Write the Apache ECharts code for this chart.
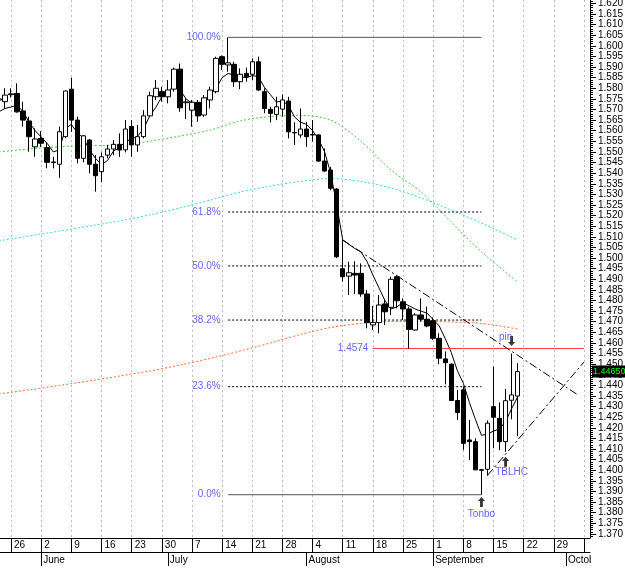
<!DOCTYPE html>
<html>
<head>
<meta charset="utf-8">
<title>EUR/USD daily</title>
<style>
html, body, #main {width:100%;height:100%;margin:0;overflow:hidden;background:#fff;}
</style>
<script src="https://cdn.jsdelivr.net/npm/echarts/dist/echarts.min.js"></script>
</head>
<body>
<div id="main"></div>
<script>
// trading days, May 22 - Oct 7 (2008)
var dates = ['05-22','05-23','05-26','05-27','05-28','05-29','05-30',
  '06-02','06-03','06-04','06-05','06-06','06-09','06-10','06-11','06-12','06-13',
  '06-16','06-17','06-18','06-19','06-20','06-23','06-24','06-25','06-26','06-27','06-30',
  '07-01','07-02','07-03','07-04','07-07','07-08','07-09','07-10','07-11',
  '07-14','07-15','07-16','07-17','07-18','07-21','07-22','07-23','07-24','07-25',
  '07-28','07-29','07-30','07-31','08-01',
  '08-04','08-05','08-06','08-07','08-08','08-11','08-12','08-13','08-14','08-15',
  '08-18','08-19','08-20','08-21','08-22','08-25','08-26','08-27','08-28','08-29',
  '09-01','09-02','09-03','09-04','09-05','09-08','09-09','09-10','09-11','09-12',
  '09-15','09-16','09-17','09-18','09-19','09-22','09-23','09-24','09-25','09-26',
  '09-29','09-30','10-01','10-02','10-03','10-06','10-07'];

var weekStarts = ['05-26','06-02','06-09','06-16','06-23','06-30','07-07','07-14','07-21','07-28',
  '08-04','08-11','08-18','08-25','09-01','09-08','09-15','09-22','09-29','10-06'];
var monthNames = {'06-02': 'June', '07-01': 'July', '08-01': 'August', '09-01': 'September', '10-01': 'October'};

var opens = [1.5745,1.5737,1.5770,1.5776,1.5693,1.5646,1.5524,1.5564,1.5520,1.5453,
  1.5442,1.5572,1.5796,1.5650,1.5470,1.5556,1.5442,1.5407,1.5485,1.5514,
  1.5536,1.5510,1.5620,1.5533,1.5572,1.5670,1.5760,1.5784,1.5760,1.5796,
  1.5890,1.5732,1.5697,1.5734,1.5674,1.5745,1.5784,1.5949,1.5910,1.5913,
  1.5831,1.5870,1.5866,1.5925,1.5784,1.5701,1.5677,1.5702,1.5740,1.5592,
  1.5580,1.5608,1.5582,1.5580,1.5457,1.5415,1.5325,1.4950,1.4915,1.4928,
  1.4928,1.4831,1.4685,1.4696,1.4784,1.4768,1.4912,1.4794,1.4760,1.4661,
  1.4732,1.4712,1.4705,1.4622,1.4525,1.4500,1.4329,1.4379,1.4143,1.4135,
  1.4003,1.4005,1.4300,1.4245,1.4135,1.4330,1.4350];
var highs = [1.5800,1.5800,1.5800,1.5823,1.5737,1.5666,1.5611,1.5598,1.5545,1.5477,
  1.5619,1.5790,1.5850,1.5666,1.5580,1.5561,1.5485,1.5498,1.5533,1.5556,
  1.5588,1.5650,1.5650,1.5627,1.5697,1.5784,1.5839,1.5807,1.5839,1.5897,
  1.5917,1.5752,1.5745,1.5745,1.5768,1.5807,1.5949,1.5955,1.6040,1.5925,
  1.5894,1.5897,1.5941,1.5949,1.5800,1.5713,1.5760,1.5771,1.5760,1.5640,
  1.5705,1.5642,1.5650,1.5583,1.5517,1.5430,1.5330,1.5085,1.4983,1.4985,
  1.4975,1.4850,1.4774,1.4826,1.4802,1.4912,1.4920,1.4810,1.4771,1.4740,
  1.4810,1.4771,1.4721,1.4646,1.4560,1.4504,1.4379,1.4394,1.4237,1.4151,
  1.4005,1.4235,1.4488,1.4320,1.4383,1.4550,1.4505];
var lows = [1.5715,1.5705,1.5757,1.5685,1.5619,1.5501,1.5477,1.5524,1.5423,1.5423,
  1.5378,1.5565,1.5595,1.5446,1.5451,1.5399,1.5313,1.5357,1.5470,1.5485,
  1.5477,1.5498,1.5477,1.5501,1.5564,1.5666,1.5745,1.5737,1.5729,1.5784,
  1.5689,1.5655,1.5619,1.5642,1.5666,1.5705,1.5776,1.5886,1.5878,1.5807,
  1.5796,1.5831,1.5839,1.5787,1.5682,1.5639,1.5650,1.5666,1.5564,1.5533,
  1.5567,1.5524,1.5548,1.5454,1.5407,1.5320,1.5000,1.4889,1.4826,1.4830,
  1.4818,1.4669,1.4661,1.4645,1.4685,1.4732,1.4763,1.4708,1.4574,1.4658,
  1.4701,1.4674,1.4614,1.4500,1.4405,1.4327,1.4237,1.4096,1.4049,1.4002,
  1.3885,1.3975,1.4104,1.4095,1.4087,1.4240,1.4160];
var closes = [1.5750,1.5768,1.5774,1.5689,1.5650,1.5572,1.5561,1.5541,1.5451,1.5450,
  1.5595,1.5787,1.5650,1.5470,1.5576,1.5442,1.5388,1.5477,1.5514,1.5536,
  1.5509,1.5608,1.5533,1.5572,1.5670,1.5765,1.5800,1.5760,1.5792,1.5890,
  1.5708,1.5736,1.5734,1.5670,1.5755,1.5792,1.5941,1.5913,1.5920,1.5831,
  1.5866,1.5854,1.5925,1.5792,1.5705,1.5682,1.5713,1.5745,1.5595,1.5590,
  1.5608,1.5572,1.5580,1.5457,1.5410,1.5329,1.5006,1.4912,1.4931,1.4920,
  1.4831,1.4696,1.4697,1.4779,1.4747,1.4900,1.4799,1.4760,1.4664,1.4732,
  1.4712,1.4680,1.4622,1.4528,1.4507,1.4329,1.4272,1.4127,1.4135,1.4002,
  1.4000,1.4222,1.4250,1.4135,1.4328,1.4355,1.4465];

// short moving average (thin black)
var maShort = [1.5690,1.5705,1.5712,1.5720,1.5690,1.5640,1.5600,1.5570,1.5540,1.5500,
  1.5510,1.5610,1.5630,1.5590,1.5565,1.5510,1.5470,1.5440,1.5460,1.5505,
  1.5520,1.5550,1.5560,1.5575,1.5610,1.5670,1.5710,1.5760,1.5780,1.5815,
  1.5795,1.5750,1.5730,1.5715,1.5740,1.5775,1.5800,1.5850,1.5870,1.5862,
  1.5855,1.5850,1.5860,1.5855,1.5805,1.5770,1.5735,1.5740,1.5720,1.5665,
  1.5640,1.5630,1.5600,1.5560,1.5500,1.5400,1.5250,1.5085,1.5065,1.5045,
  1.5030,1.4985,1.4920,1.4860,1.4800,1.4760,1.4770,1.4790,1.4775,1.4760,
  1.4750,1.4740,1.4710,1.4680,1.4620,1.4555,1.4470,1.4410,1.4320,1.4240,
  1.4165,1.4170,1.4185,1.4195,1.4230,1.4290,1.4346];
// longer averages, read every 5 days
var maGreen = [[0,1.5500],[5,1.5514],[10,1.5525],[15,1.5530],[20,1.5533],[25,1.5551],[30,1.5575],
  [35,1.5603],[40,1.5646],[45,1.5667],[50,1.5672],[55,1.5650],[60,1.5551],[65,1.5415],
  [70,1.5311],[75,1.5170],[80,1.5029],[86,1.4887]];
var maCyan = [[0,1.5081],[5,1.5104],[10,1.5127],[15,1.5151],[20,1.5175],[25,1.5203],[30,1.5236],
  [35,1.5273],[40,1.5311],[45,1.5339],[50,1.5361],[55,1.5375],[60,1.5361],[65,1.5330],
  [70,1.5283],[75,1.5226],[80,1.5165],[86,1.5085]];
var maOrange = [[0,1.4360],[5,1.4379],[10,1.4400],[15,1.4421],[20,1.4444],[25,1.4468],[30,1.4496],
  [35,1.4527],[40,1.4562],[45,1.4600],[50,1.4640],[55,1.4673],[60,1.4692],[65,1.4701],
  [70,1.4701],[75,1.4699],[80,1.4692],[86,1.4666]];

var fibPrices = [1.6040, 1.5217, 1.4963, 1.4708, 1.4394, 1.3885];
var fibNames = ['100.0%', '61.8%', '50.0%', '38.2%', '23.6%', '0.0%'];
var fibFrom = 38, fibTo = 80;

var levelPrice = 1.4574, levelFrom = 62, levelTo = 97;
var trendDown = [[57, 1.5085], [96, 1.4355]];
var trendUp = [[81, 1.3976], [97, 1.4510]];
var notes = [[80, 1.3794, 'Tonbo'], [85, 1.3993, 'TBLHC'], [84, 1.4625, 'pin']];
var arrowsUp = [[80, 1.3851], [84, 1.4040]];
var arrowsDown = [[85, 1.4609]];
var lastPrice = 1.4465;

var priceTicks = [], minorTicks = [];
for (var t = 1369; t <= 1621; t++) {
  if (t % 5 === 0) priceTicks.push(t / 1000); else minorTicks.push(t / 1000);
}

var candles = closes.map(function (c, i) { return [opens[i], c, lows[i], highs[i]]; });
var isWeek = function (i, v) { return weekStarts.indexOf(v) >= 0; };
var isMonth = function (i, v) { return monthNames[v] !== undefined; };
var font = 'Arial';
var blue = '#3a3aff';
var yMin = 1.3681, yMax = 1.6216;

var series = [
  {type: 'line', data: maOrange, smooth: 0.3, showSymbol: false, lineStyle: {color: '#ff6a33', width: 1, type: [2, 2]}},
  {type: 'line', data: maCyan, smooth: 0.3, showSymbol: false, lineStyle: {color: '#33d6d6', width: 1, type: [2, 2]}},
  {type: 'line', data: maGreen, smooth: 0.3, showSymbol: false, lineStyle: {color: '#44cc44', width: 1, type: [2, 2]}},
  {type: 'line', data: maShort, showSymbol: false, lineStyle: {color: '#000', width: 1}},
  {type: 'line', data: [[levelFrom, levelPrice], [levelTo, levelPrice]], showSymbol: false,
    lineStyle: {color: '#ff3b3b', width: 1}},
  {type: 'line', data: trendDown, showSymbol: false, lineStyle: {color: '#000', width: 1, type: [8, 3, 2, 3]}},
  {type: 'line', data: trendUp, showSymbol: false, lineStyle: {color: '#000', width: 1, type: [8, 3, 2, 3]}}
];
fibPrices.forEach(function (p, i) {
  var edge = (i === 0 || i === fibPrices.length - 1);
  series.push({type: 'line', data: [[fibFrom, p], [fibTo, p]], showSymbol: false,
    lineStyle: {color: edge ? '#555' : '#000', width: 1, type: edge ? 'solid' : [2, 2]}});
});
series.push({
  type: 'candlestick', data: candles, barWidth: 5, z: 4,
  itemStyle: {color: '#fff', color0: '#000', borderColor: '#000', borderColor0: '#000', borderWidth: 1}
});
series.push({
  type: 'scatter', symbolSize: 1, itemStyle: {color: 'transparent'}, z: 5,
  data: fibPrices.map(function (p, i) { return [fibFrom, p, fibNames[i]]; }),
  label: {show: true, position: 'left', distance: 7, color: blue, fontSize: 10, fontFamily: font,
    formatter: function (d) { return d.data[2]; }}
});
series.push({
  type: 'scatter', symbolSize: 1, itemStyle: {color: 'transparent'}, z: 5,
  data: [[levelFrom, levelPrice, levelPrice.toFixed(4)]],
  label: {show: true, position: 'left', distance: 4, color: blue, fontSize: 10, fontFamily: font,
    formatter: function (d) { return d.data[2]; }}
});
series.push({
  type: 'scatter', symbolSize: 1, itemStyle: {color: 'transparent'}, z: 5,
  data: notes,
  label: {show: true, position: 'inside', color: blue, fontSize: 10, fontFamily: font,
    formatter: function (d) { return d.data[2]; }}
});
var arrowPath = 'path://M5,0 L10,5 L7,5 L7,12 L3,12 L3,5 L0,5 Z';
series.push({type: 'scatter', data: arrowsUp, symbol: arrowPath, symbolSize: [7, 10], itemStyle: {color: '#000'}, z: 5});
series.push({type: 'scatter', data: arrowsDown, symbol: arrowPath, symbolRotate: 180, symbolSize: [7, 10], itemStyle: {color: '#000'}, z: 5});

var chart = echarts.init(document.getElementById('main'));
chart.setOption({
  animation: false,
  backgroundColor: '#fff',
  grid: {left: -1, right: 35, top: 0, bottom: 30, containLabel: false, outerBoundsMode: 'none'},
  xAxis: [{
    type: 'category', data: dates, boundaryGap: false,
    axisLine: {lineStyle: {color: '#000'}},
    axisTick: {interval: isWeek, length: 14, lineStyle: {color: '#000'}},
    axisLabel: {interval: isWeek, align: 'left', padding: [0, 0, 0, 3], margin: 2, fontSize: 10,
      color: '#000', fontFamily: font, formatter: function (v) { return String(+v.slice(3)); }},
    splitLine: {show: true, interval: isWeek, lineStyle: {color: '#bbb', type: [2, 3]}}
  }, {
    type: 'category', data: dates, boundaryGap: false, position: 'bottom', offset: 14,
    axisLine: {lineStyle: {color: '#000'}},
    axisTick: {interval: isMonth, length: 14, lineStyle: {color: '#000'}},
    axisLabel: {interval: isMonth, align: 'left', padding: [0, 0, 0, 2], margin: 3, fontSize: 10,
      color: '#000', fontFamily: font, formatter: function (v) { return monthNames[v]; }},
    splitLine: {show: false}
  }],
  yAxis: [{
    type: 'value', position: 'right', min: yMin, max: yMax,
    axisLine: {show: true, lineStyle: {color: '#000'}},
    axisTick: {show: true, length: 6, customValues: priceTicks, lineStyle: {color: '#000'}},
    axisLabel: {customValues: priceTicks, showMinLabel: true, showMaxLabel: true, margin: 8,
      fontSize: 10, color: '#000', fontFamily: font,
      formatter: function (v) { return v.toFixed(3); }},
    splitLine: {show: false}
  }, {
    type: 'value', position: 'right', min: yMin, max: yMax,
    axisLine: {show: false},
    axisTick: {show: true, length: 3, customValues: minorTicks, lineStyle: {color: '#000'}},
    axisLabel: {show: false},
    splitLine: {show: false}
  }, {
    // last price tag
    type: 'value', position: 'right', min: yMin, max: yMax, z: 10,
    axisLine: {show: false}, axisTick: {show: false}, splitLine: {show: false},
    axisLabel: {customValues: [lastPrice], showMinLabel: true, showMaxLabel: true, margin: 2,
      fontSize: 9, fontFamily: font, color: '#00ff00', backgroundColor: '#000', padding: [2, 1, 1, 1],
      formatter: function (v) { return v.toFixed(5); }}
  }],
  graphic: [
    {type: 'rect', shape: {x: 587, y: 540, width: 38, height: 12}, style: {fill: '#fff'}, z: 100},
    {type: 'rect', shape: {x: 591, y: 553, width: 34, height: 15}, style: {fill: '#fff'}, z: 100}
  ],
  series: series
});
</script>
</body>
</html>
